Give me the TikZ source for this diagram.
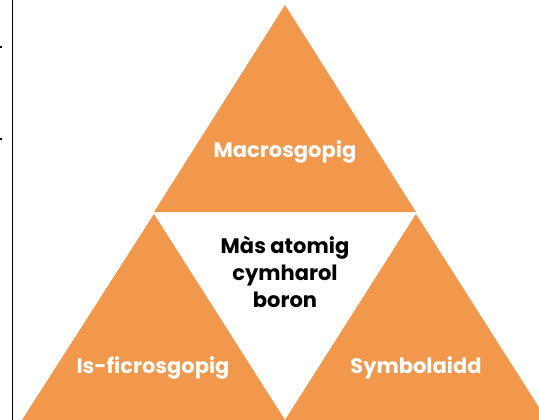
\documentclass[tikz,border=0pt]{standalone}
\usepackage{fontspec}
\setmainfont{Poppins}
\usepackage{xcolor}
\definecolor{pyramidOrange}{RGB}{242, 152, 77}
\definecolor{pyramidBlack}{RGB}{0, 0, 0}
\definecolor{pyramidWhite}{RGB}{255, 255, 255}

\begin{document}
\begin{tikzpicture}[x=1pt, y=-1pt, every node/.style={font=\bfseries\fontsize{21}{27}\selectfont, align=center}]
            \useasboundingbox (0,0) rectangle (539,420);
            \clip (0,0) rectangle (539,420);
            
            % Left rule
            \draw[line width=1.5pt, pyramidBlack] (12.5,0) -- (12.5,420);
            \fill[pyramidBlack] (0,46) rectangle (2,48);
            \fill[pyramidBlack] (0,138) rectangle (2,140);
            
            % Triangles
            \fill[pyramidOrange] (285,5) -- (154,212) -- (416,212) -- cycle;
            \fill[pyramidOrange] (154,214) -- (22,420) -- (285,420) -- cycle;
            \fill[pyramidOrange] (416,214) -- (285,420) -- (547,420) -- cycle;
            
            % Labels
            \node[text=pyramidWhite] (macro) at (285,152) {Macrosgopig};
            \node[text=pyramidBlack] (mass) at (285,272) {Màs atomig\\cymharol\\boron};
            \node[text=pyramidWhite] (micro) at (153,368) {Is-ficrosgopig};
            \node[text=pyramidWhite] (symbol) at (416,368) {Symbolaidd};
\end{tikzpicture}
\end{document}
